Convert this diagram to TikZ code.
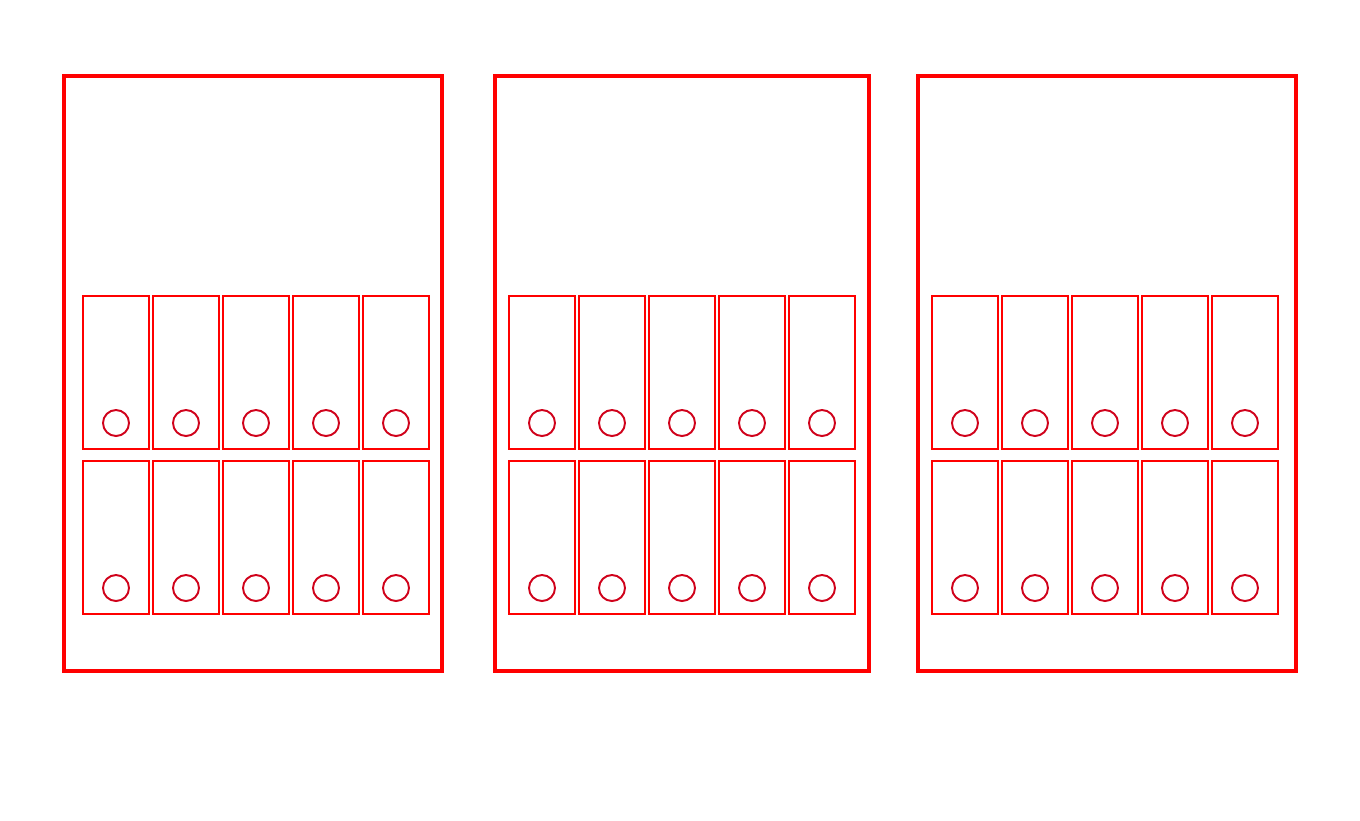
\documentclass[tikz,border=0pt]{standalone}
\definecolor{slotred}{RGB}{208,2,27}
\begin{document}
\begin{tikzpicture}[x=0.01cm,y=-0.01cm]
            \useasboundingbox (0,0) rectangle (1360,820);
            % three cabinets
            \draw [red, line width=1.15pt] (64,76) rectangle (442,671);
            \draw [red, line width=1.15pt] (495,76) rectangle (869,671);
            \draw [red, line width=1.15pt] (918,76) rectangle (1296,671);
            % two rows of five slots in each
            \foreach \left in {83,509,932}
              \foreach \i in {0,...,4}
                \foreach \top in {296,461} {
                  \draw [red, line width=0.6pt] (\left+70*\i,\top) rectangle ++(66,153);
                  \draw [slotred, line width=0.55pt] (\left+70*\i+33,\top+127) circle (13);
                }
        \end{tikzpicture}
\end{document}
